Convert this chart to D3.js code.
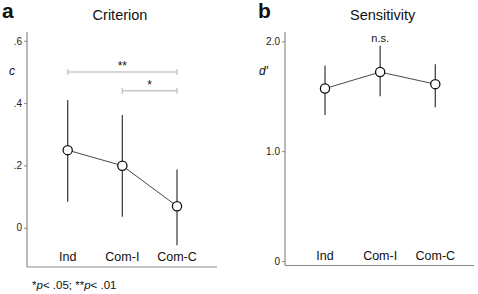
<!DOCTYPE html>
<html>
<head>
<meta charset="utf-8">
<script src="https://cdn.jsdelivr.net/npm/d3@7"></script>
<style>
  body { margin: 0; background: #fff; }
  svg { font-family: "Liberation Sans", Arial, sans-serif; }
</style>
</head>
<body>
<div id="fig"></div>
<script>
var conditions = ["Ind", "Com-I", "Com-C"];

// panel a: criterion c
var critMean = [0.249, 0.199, 0.069];
var critLow = [0.083, 0.035, -0.056];
var critHigh = [0.410, 0.362, 0.187];
var critTicks = [0, 0.2, 0.4, 0.6];
var critTickLabels = ["0", ".2", ".4", ".6"];
// significance brackets: from, to, level, label
var critSig = [
    { from: "Ind", to: "Com-C", y: 0.5, label: "**" },
    { from: "Com-I", to: "Com-C", y: 0.44, label: "*" }
];

// panel b: sensitivity d'
var sensMean = [1.57, 1.72, 1.61];
var sensLow = [1.33, 1.50, 1.40];
var sensHigh = [1.78, 1.96, 1.79];
var sensTicks = [0, 1, 2];
var sensTickLabels = ["0", "1.0", "2.0"];

var svg = d3.select("#fig").append("svg")
    .attr("width", 478)
    .attr("height", 294);

function drawPanel(opt) {
    var g = svg.append("g");

    var x = d3.scalePoint()
        .domain(conditions)
        .range([opt.x0, opt.x1]);

    var y = d3.scaleLinear()
        .domain(opt.domain)
        .range(opt.range);

    // axes lines
    g.append("line")
        .attr("x1", opt.axisX).attr("x2", opt.axisX)
        .attr("y1", opt.axisTop).attr("y2", opt.axisBottom)
        .attr("stroke", "#8a8a8a").attr("stroke-width", 1.2);
    g.append("line")
        .attr("x1", opt.axisX).attr("x2", opt.axisRight)
        .attr("y1", opt.axisBottom).attr("y2", opt.axisBottom)
        .attr("stroke", "#8a8a8a").attr("stroke-width", 1.2);

    var yAxis = g.append("g")
        .attr("transform", "translate(" + opt.axisX + ",0)")
        .call(d3.axisLeft(y)
            .tickValues(opt.ticks)
            .tickSize(3)
            .tickPadding(2)
            .tickFormat((d, i) => opt.tickLabels[i]));
    yAxis.select(".domain").remove();
    yAxis.selectAll(".tick line").attr("stroke", "#8a8a8a");
    yAxis.selectAll(".tick text")
        .attr("fill", "#222")
        .style("font-size", "10px")
        .style("font-family", "Liberation Sans, Arial, sans-serif");

    // category labels
    g.selectAll(".cat")
        .data(conditions)
        .enter().append("text")
        .attr("x", d => x(d))
        .attr("y", opt.catY)
        .attr("text-anchor", "middle")
        .style("font-size", "12.5px")
        .attr("fill", "#111")
        .text(d => d);

    // error bars
    g.selectAll(".err")
        .data(conditions)
        .enter().append("line")
        .attr("x1", d => x(d)).attr("x2", d => x(d))
        .attr("y1", (d, i) => y(opt.low[i]))
        .attr("y2", (d, i) => y(opt.high[i]))
        .attr("stroke", "#444").attr("stroke-width", 1.3);

    // connecting line
    g.append("path")
        .datum(opt.mean)
        .attr("d", d3.line().x((d, i) => x(conditions[i])).y(d => y(d)))
        .attr("fill", "none")
        .attr("stroke", "#333").attr("stroke-width", 0.9);

    g.selectAll(".pt")
        .data(opt.mean)
        .enter().append("circle")
        .attr("cx", (d, i) => x(conditions[i]))
        .attr("cy", d => y(d))
        .attr("r", 4.6)
        .attr("fill", "#fff")
        .attr("stroke", "#111").attr("stroke-width", 1.3);

    // titles
    g.append("text")
        .attr("x", opt.titleX).attr("y", 20)
        .attr("text-anchor", "middle")
        .style("font-size", "14.5px")
        .attr("fill", "#111")
        .text(opt.title);
    g.append("text")
        .attr("x", opt.letterX).attr("y", 18)
        .style("font-size", "21px").style("font-weight", "bold")
        .attr("fill", "#111")
        .text(opt.letter);
    g.append("text")
        .attr("x", opt.symX).attr("y", opt.symY)
        .style("font-size", "12px").style("font-style", "italic")
        .attr("fill", "#111")
        .text(opt.sym);

    return { g: g, x: x, y: y };
}

var a = drawPanel({
    x0: 67.7, x1: 177, domain: [0, 0.6], range: [227.7, 40.8],
    axisX: 27, axisTop: 32, axisBottom: 267, axisRight: 217,
    ticks: critTicks, tickLabels: critTickLabels,
    mean: critMean, low: critLow, high: critHigh,
    catY: 261, title: "Criterion", titleX: 120, letter: "a", letterX: 2,
    sym: "c", symX: 9, symY: 75
});

critSig.forEach(s => {
    var x1 = a.x(s.from), x2 = a.x(s.to), yy = a.y(s.y);
    a.g.append("path")
        .attr("d", "M" + x1 + "," + (yy - 3) + "V" + (yy + 3) + "M" + x1 + "," + yy +
              "H" + x2 + "M" + x2 + "," + (yy - 3) + "V" + (yy + 3))
        .attr("fill", "none")
        .attr("stroke", "#c8c8c8").attr("stroke-width", 1.5);
    a.g.append("text")
        .attr("x", (x1 + x2) / 2).attr("y", yy - 2)
        .attr("text-anchor", "middle")
        .style("font-size", "12px")
        .attr("fill", "#111")
        .text(s.label);
});

var fn = svg.append("text")
    .attr("x", 32).attr("y", 289)
    .style("font-size", "11.5px")
    .attr("fill", "#111");
fn.append("tspan").text("*");
fn.append("tspan").style("font-style", "italic").text("p");
fn.append("tspan").text("< .05; **");
fn.append("tspan").style("font-style", "italic").text("p");
fn.append("tspan").text("< .01");

var b = drawPanel({
    x0: 325, x1: 435.3, domain: [0, 2], range: [261, 41.3],
    axisX: 285, axisTop: 32, axisBottom: 265.5, axisRight: 474,
    ticks: sensTicks, tickLabels: sensTickLabels,
    mean: sensMean, low: sensLow, high: sensHigh,
    catY: 260, title: "Sensitivity", titleX: 382.7, letter: "b", letterX: 258,
    sym: "d\u2032", symX: 259, symY: 75
});

b.g.append("text")
    .attr("x", b.x("Com-I")).attr("y", 42)
    .attr("text-anchor", "middle")
    .style("font-size", "11px")
    .attr("fill", "#111")
    .text("n.s.");
</script>
</body>
</html>
